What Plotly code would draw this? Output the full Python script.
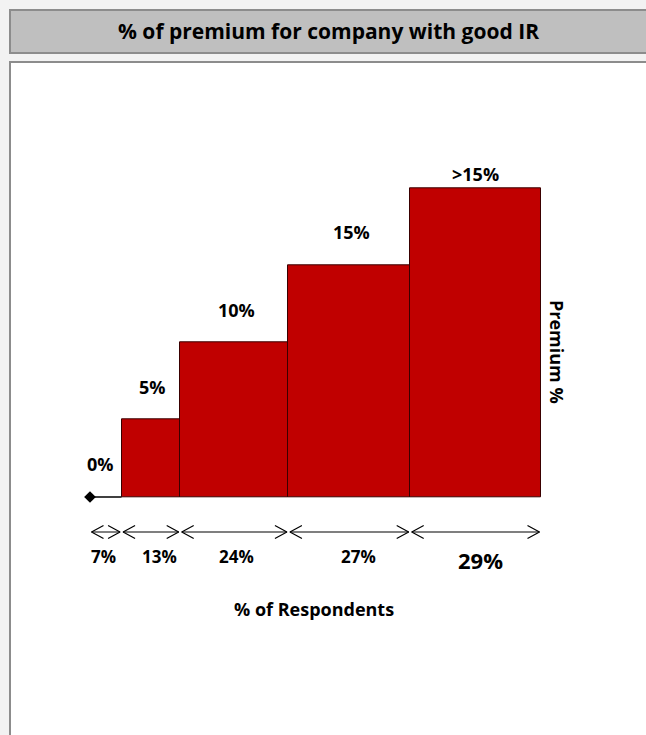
import numpy as np
import plotly.graph_objects as go

# ---- data ----
respondents = [7, 13, 24, 27, 29]          # % of respondents (bar widths)
premium = [0, 5, 10, 15, 20]               # premium level (bar heights)
premium_labels = ["0%", "5%", "10%", "15%", ">15%"]
resp_labels = ["7%", "13%", "24%", "27%", "29%"]
title_text = "% of premium for company with good IR"
x_title = "% of Respondents"
y_title = "Premium %"

# ---- layout geometry (pixels) ----
W, H = 646, 735
FONT = "Open Sans"
RED = "#c00000"

x_px0, x_px1 = 90, 541            # data x 0..100
base_px = 497                     # data y = 0
ppu_y = 15.45                     # px per y unit
y_lo, y_hi = -8, 26
ppu_x = (x_px1 - x_px0) / 100.0

def ypx_to_paper(px):
    return 1 - px / H

dom_y = [ypx_to_paper(base_px - y_lo * ppu_y), ypx_to_paper(base_px - y_hi * ppu_y)]
dom_x = [x_px0 / W, x_px1 / W]

widths = np.array(respondents, dtype=float)
starts = np.concatenate([[0], np.cumsum(widths)[:-1]])
ends = starts + widths
centers = starts + widths / 2

fig = go.Figure()

# bars (zero-height one drawn as line below)
fig.add_trace(go.Bar(
    x=centers[1:], y=premium[1:], width=widths[1:], base=0,
    marker=dict(color=RED, line=dict(color="#3a0000", width=1)),
    hoverinfo="skip", showlegend=False,
))

# zero-height category line with diamond
fig.add_trace(go.Scatter(
    x=[starts[0], ends[0]], y=[premium[0], premium[0]], mode="lines",
    line=dict(color="black", width=1.5), showlegend=False, hoverinfo="skip",
    cliponaxis=False))
fig.add_trace(go.Scatter(
    x=[starts[0]], y=[premium[0]], mode="markers",
    marker=dict(symbol="diamond", size=9, color="black"),
    showlegend=False, hoverinfo="skip", cliponaxis=False))

# double-headed arrows under each segment
arrow_y = (base_px - 532) / ppu_y
ch_len = 12 / ppu_x
ch_half = 6.5 / ppu_y
gap = 1.5 / ppu_x
xs, ys = [], []
for s, e in zip(starts, ends):
    a, b = s + gap, e - gap
    xs += [a, b, None]; ys += [arrow_y, arrow_y, None]
    xs += [a + ch_len, a, a + ch_len, None]
    ys += [arrow_y + ch_half, arrow_y, arrow_y - ch_half, None]
    xs += [b - ch_len, b, b - ch_len, None]
    ys += [arrow_y + ch_half, arrow_y, arrow_y - ch_half, None]
fig.add_trace(go.Scatter(x=xs, y=ys, mode="lines", line=dict(color="black", width=1.2),
                         showlegend=False, hoverinfo="skip", cliponaxis=False))

annotations = []
label_shift = [33, 33, 33, 33, 14]
label_xshift = [-5, 2, 2, 2, 0]
for c, p, t, sh, xsh in zip(centers, premium, premium_labels, label_shift, label_xshift):
    annotations.append(dict(x=c, y=p, xref="x", yref="y", text=f"<b>{t}</b>",
                            showarrow=False, yshift=sh, xshift=xsh,
                            xanchor="center", yanchor="middle",
                            font=dict(family=FONT, size=18, color="black")))
resp_y = (base_px - 556) / ppu_y
resp_xshift = [-2, 9, 2, 9, 5]
for i, (c, t, xsh) in enumerate(zip(centers, resp_labels, resp_xshift)):
    big = i == len(resp_labels) - 1
    annotations.append(dict(x=c, y=resp_y, xref="x", yref="y", text=f"<b>{t}</b>",
                            showarrow=False, xanchor="center", yanchor="middle",
                            yshift=-4 if big else 0, xshift=xsh,
                            font=dict(family=FONT, size=22 if big else 17, color="black")))

annotations.append(dict(x=328 / W, y=ypx_to_paper(31), xref="paper", yref="paper",
                        text=f"<b>{title_text}</b>", showarrow=False,
                        xanchor="center", yanchor="middle",
                        font=dict(family=FONT, size=21, color="black")))
annotations.append(dict(x=314 / W, y=ypx_to_paper(609), xref="paper", yref="paper",
                        text=f"<b>{x_title}</b>", showarrow=False,
                        xanchor="center", yanchor="middle",
                        font=dict(family=FONT, size=18, color="black")))
annotations.append(dict(x=557 / W, y=ypx_to_paper(352), xref="paper", yref="paper",
                        text=f"<b>{y_title}</b>", showarrow=False, textangle=90,
                        xanchor="center", yanchor="middle",
                        font=dict(family=FONT, size=18, color="black")))

shapes = [
    dict(type="rect", xref="paper", yref="paper",
         x0=10 / W, x1=(W + 5) / W, y0=ypx_to_paper(53), y1=ypx_to_paper(10),
         fillcolor="#bfbfbf", line=dict(color="#8c8c8c", width=2), layer="below"),
    dict(type="rect", xref="paper", yref="paper",
         x0=10 / W, x1=(W + 5) / W, y0=ypx_to_paper(H + 5), y1=ypx_to_paper(62),
         fillcolor="white", line=dict(color="#8c8c8c", width=2), layer="below"),
]

fig.update_layout(
    width=W, height=H,
    margin=dict(l=0, r=0, t=0, b=0),
    paper_bgcolor="#f2f2f2", plot_bgcolor="rgba(0,0,0,0)",
    bargap=0,
    xaxis=dict(domain=dom_x, range=[0, 100], visible=False, fixedrange=True),
    yaxis=dict(domain=dom_y, range=[y_lo, y_hi], visible=False, fixedrange=True),
    annotations=annotations, shapes=shapes,
    font=dict(family=FONT),
)

fig.write_html("out.html")
